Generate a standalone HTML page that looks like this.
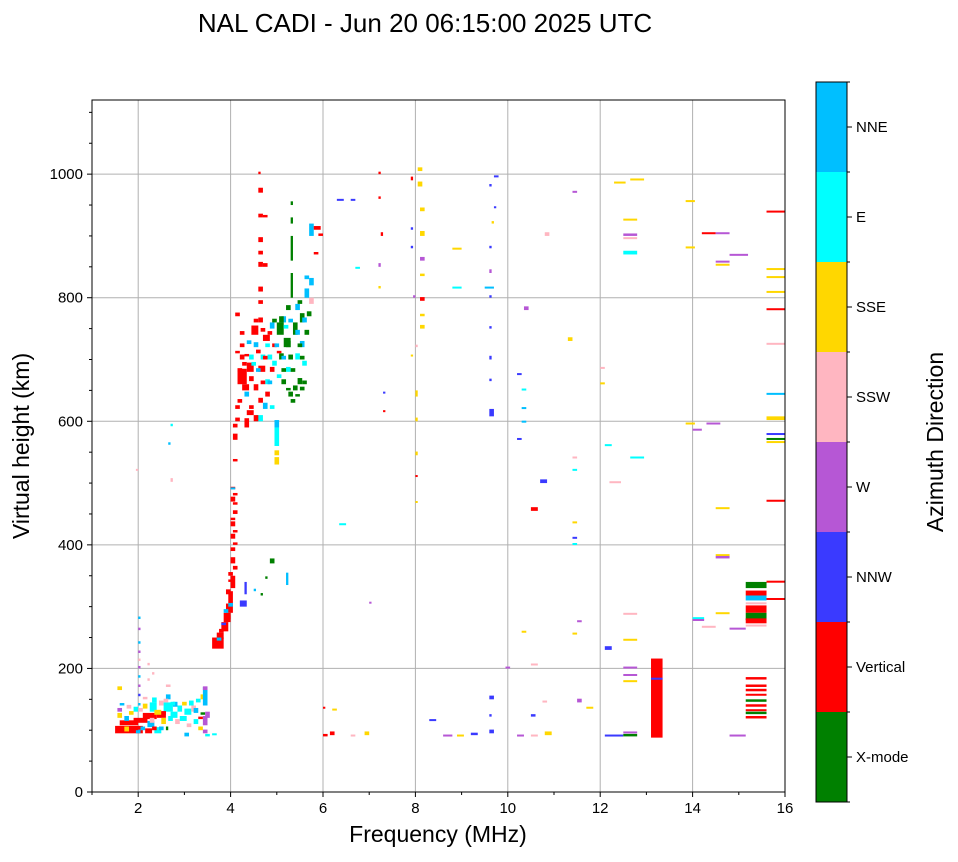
<!DOCTYPE html>
<html><head><meta charset="utf-8"><style>
body{margin:0;background:#fff;width:958px;height:857px;overflow:hidden;font-family:"Liberation Sans","DejaVu Sans",sans-serif}
svg text{font-family:"Liberation Sans","DejaVu Sans",sans-serif}
</style></head><body>
<svg id="chart" width="958" height="857" xmlns="http://www.w3.org/2000/svg">
<text x="425" y="32" font-size="26" text-anchor="middle">NAL CADI - Jun 20 06:15:00 2025 UTC</text>
<g id="grid"></g>
<g id="marks"></g>
<rect x="92" y="100" width="693" height="692" fill="none" stroke="#000" stroke-width="1"/>
<g id="axes"></g>
<text x="438" y="842" font-size="23" text-anchor="middle">Frequency (MHz)</text>
<text transform="translate(29,446) rotate(-90)" font-size="23" text-anchor="middle">Virtual height (km)</text>
<g id="cbar"></g>
<text transform="translate(943,442) rotate(-90)" font-size="23" text-anchor="middle">Azimuth Direction</text>
</svg>
<script>
const directions = ["X-mode","Vertical","NNW","W","SSW","SSE","E","NNE"];
const dirColors = ["#008000","#ff0000","#3a3aff","#b657d5","#ffb6c1","#ffd700","#00ffff","#00bfff"];
const xTicks = [2,4,6,8,10,12,14,16];
const yTicks = [0,200,400,600,800,1000];
// [freq MHz, height km, direction index, width MHz, height span km]
const points = [
// low cluster
[1.5,95,1,0.6,12],[1.6,108,1,0.4,8],[1.55,120,5,0.1,8],[1.55,130,3,0.1,6],[1.55,165,5,0.1,6],
[1.7,115,7,0.1,8],[1.8,125,5,0.1,6],[1.9,112,1,0.3,8],[1.95,95,7,0.1,6],[2.0,130,4,0.1,6],
[2.0,280,7,0.05,4],[2.0,262,3,0.05,4],[2.0,240,7,0.05,4],[2.0,225,3,0.05,4],[2.0,200,3,0.05,4],[2.0,185,7,0.05,4],[2.0,170,3,0.05,4],[2.0,155,2,0.05,4],[2.0,140,7,0.05,4],
[2.1,118,1,0.3,10],[2.2,105,7,0.15,10],[2.25,130,6,0.15,15],[2.3,145,6,0.1,8],[2.35,95,6,0.15,10],
[2.4,120,1,0.2,10],[2.45,140,4,0.1,8],[2.5,110,5,0.1,10],[2.55,130,6,0.2,15],[2.6,150,7,0.1,8],
[2.7,120,6,0.15,10],[2.75,138,7,0.1,8],[2.8,110,4,0.1,8],[2.85,130,6,0.1,10],[2.2,205,4,0.05,4],[2.3,190,4,0.05,4],[2.2,180,4,0.05,4],
[3.0,125,6,0.15,10],[3.1,140,6,0.1,8],[3.2,110,6,0.1,8],[3.3,100,5,0.1,6],[3.35,150,5,0.1,8],[3.4,140,7,0.1,30],[3.4,108,3,0.1,15],[3.4,95,3,0.1,6],[3.4,165,3,0.1,6],[3.15,130,4,0.1,10],[3.0,90,7,0.1,6],
[2.7,592,6,0.05,4],[2.65,562,7,0.05,4],[2.7,502,4,0.05,6],[1.95,520,4,0.05,3],
// extra low-cluster density
[1.6,140,7,0.1,4],[1.7,98,5,0.1,8],[1.75,135,4,0.1,6],[1.85,100,1,0.15,6],[1.9,130,6,0.1,8],[2.05,100,7,0.1,6],[2.1,135,5,0.1,8],[2.15,95,1,0.15,8],[2.25,112,4,0.1,8],[2.3,100,1,0.1,6],
[2.35,125,5,0.15,8],[2.45,100,7,0.1,6],[2.5,125,1,0.1,6],[2.55,145,4,0.1,6],[2.6,100,0,0.05,6],[2.65,115,6,0.1,8],[2.7,140,6,0.1,6],[2.9,115,6,0.15,8],[2.95,140,5,0.1,6],[3.05,105,4,0.1,6],
[3.2,128,7,0.1,8],[3.25,145,6,0.1,6],[3.3,118,1,0.1,4],[3.35,125,0,0.1,4],[3.45,120,3,0.1,10],[3.45,90,6,0.1,4],[3.6,92,6,0.1,3],[2.1,150,4,0.1,4],[2.6,170,4,0.1,4],[2.0,212,4,0.05,4],
// diagonal red
[3.6,232,1,0.25,18],[3.7,248,1,0.15,10],[3.8,260,1,0.15,15],[3.85,275,1,0.15,15],[3.9,290,1,0.15,15],[3.95,305,1,0.1,20],[4.0,330,1,0.1,20],[3.95,350,1,0.1,6],
[4.0,370,1,0.1,10],[4.0,390,1,0.1,6],[4.0,410,1,0.1,8],[4.0,430,1,0.1,8],[4.05,450,1,0.1,6],[4.0,470,1,0.1,8],[4.0,490,1,0.1,4],[4.0,490,7,0.1,3],[3.95,300,7,0.1,6],[3.85,290,7,0.1,6],[3.7,245,7,0.1,5],
[3.9,320,1,0.1,8],[3.95,340,1,0.1,4],[4.05,360,1,0.1,6],[4.05,400,1,0.1,4],[4.05,420,1,0.1,4],[4.0,440,1,0.1,4],[4.05,465,1,0.1,4],[4.05,480,1,0.1,4],[3.75,258,1,0.1,6],[3.9,280,1,0.1,6],[3.8,270,2,0.1,4],
[4.2,300,2,0.15,10],[4.3,320,2,0.05,20],[4.5,325,7,0.05,4],[4.65,318,0,0.05,4],[4.75,345,0,0.05,4],[4.85,370,0,0.1,8],[5.2,335,7,0.05,20],
// main upper cluster
[4.05,570,1,0.1,10],[4.05,535,1,0.1,4],[4.1,600,1,0.1,6],[4.15,630,1,0.1,6],[4.15,660,1,0.2,25],[4.2,700,1,0.1,8],[4.2,720,1,0.1,6],[4.1,770,1,0.1,6],
[4.3,590,1,0.1,15],[4.35,610,1,0.15,8],[4.3,640,7,0.1,8],[4.35,680,1,0.15,15],[4.4,700,6,0.1,8],[4.45,740,1,0.15,15],[4.5,650,1,0.1,10],[4.5,720,7,0.1,8],
[4.55,600,6,0.15,10],[4.6,630,1,0.1,8],[4.6,680,1,0.15,10],[4.6,760,1,0.1,8],[4.65,700,6,0.1,8],[4.7,620,7,0.1,10],[4.75,660,6,0.1,8],[4.7,730,1,0.15,10],
[4.6,790,1,0.1,6],[4.6,810,1,0.1,8],[4.6,850,1,0.1,8],[4.6,870,1,0.1,6],[4.6,890,1,0.1,8],[4.6,930,1,0.1,6],[4.6,970,1,0.1,8],[4.6,1000,1,0.05,4],[4.7,850,1,0.1,6],[4.7,930,1,0.1,4],
[4.8,700,6,0.1,8],[4.85,750,7,0.1,10],[4.85,680,1,0.1,8],[4.9,720,1,0.1,6],[4.95,530,5,0.1,12],[4.95,560,6,0.1,30],[4.95,590,7,0.1,12],[4.95,545,5,0.1,8],
[5.0,740,0,0.15,20],[5.05,700,0,0.1,10],[5.1,760,7,0.1,10],[5.1,660,0,0.1,8],[5.15,720,0,0.15,15],[5.2,680,6,0.1,8],[5.2,780,0,0.1,8],[5.25,640,0,0.1,8],
[5.3,800,0,0.05,40],[5.3,860,0,0.05,40],[5.3,920,0,0.05,10],[5.3,950,0,0.05,6],[5.35,740,0,0.1,20],[5.4,700,6,0.1,10],[5.45,660,0,0.1,10],[5.4,780,7,0.1,10],
[5.5,760,0,0.1,15],[5.5,720,7,0.1,10],[5.55,690,6,0.1,8],[5.6,740,0,0.1,8],[5.6,800,7,0.1,15],[5.7,820,7,0.1,12],[5.7,900,7,0.1,20],[5.7,790,4,0.1,10],[5.8,870,1,0.1,4],[5.8,910,1,0.15,6],[5.9,900,1,0.1,4],
// extra upper-cluster density
[4.2,740,1,0.1,6],[4.25,690,1,0.1,6],[4.25,650,1,0.15,10],[4.3,705,1,0.1,4],[4.35,725,7,0.1,6],[4.4,665,1,0.1,8],[4.4,620,1,0.1,6],[4.45,690,6,0.1,6],[4.5,760,1,0.1,6],[4.5,600,1,0.1,10],
[4.55,710,1,0.1,6],[4.55,680,7,0.1,6],[4.65,745,1,0.1,6],[4.65,660,1,0.1,6],[4.7,700,1,0.1,6],[4.75,640,1,0.1,8],[4.75,720,6,0.1,6],[4.8,660,7,0.1,6],[4.8,740,1,0.1,6],[4.85,620,6,0.1,6],
[4.9,690,6,0.1,8],[4.9,760,0,0.1,6],[4.95,720,7,0.1,6],[5.0,670,6,0.1,6],[5.0,710,1,0.1,4],[5.05,760,0,0.1,10],[5.1,700,7,0.1,6],[5.15,750,6,0.1,6],[5.2,720,0,0.1,10],[5.25,700,0,0.1,8],
[5.25,760,7,0.1,6],[5.3,680,0,0.1,6],[5.35,650,0,0.1,8],[5.4,740,7,0.1,8],[5.45,720,0,0.1,6],[5.45,790,0,0.1,6],[5.5,700,0,0.1,6],[5.55,660,0,0.1,6],[5.55,760,7,0.1,8],[5.65,770,0,0.1,8],
[5.3,630,0,0.1,6],[5.4,640,0,0.1,4],[5.5,650,0,0.1,6],[5.1,680,0,0.1,6],[5.2,650,0,0.1,4],[4.1,620,1,0.1,6],[4.15,680,1,0.1,6],[4.1,710,1,0.1,4],[4.05,590,1,0.1,6],[5.6,830,7,0.1,6],
// scattered higher freq
[6.0,90,1,0.1,4],[6.0,135,1,0.05,3],[6.15,92,1,0.1,6],[6.2,132,5,0.1,3],[6.35,432,6,0.15,3],[6.3,957,2,0.15,3],[6.6,957,2,0.1,3],[6.7,847,6,0.1,3],[6.6,90,4,0.1,3],
[6.9,92,5,0.1,6],[7.0,305,3,0.05,3],[7.2,1000,1,0.05,4],[7.2,960,1,0.05,4],[7.25,900,1,0.05,6],[7.2,850,3,0.05,6],[7.2,815,5,0.05,4],[7.3,645,2,0.05,3],[7.3,615,1,0.05,3],
[7.9,990,1,0.05,6],[7.9,910,2,0.05,4],[7.9,880,2,0.05,4],[7.95,800,3,0.05,4],[7.9,705,5,0.05,3],[8.0,720,4,0.05,4],[8.0,640,5,0.05,10],[8.0,600,5,0.05,6],[8.0,545,5,0.05,6],[8.0,510,1,0.05,3],[8.0,468,5,0.05,3],
[8.05,1005,5,0.1,6],[8.05,980,5,0.1,8],[8.1,940,5,0.1,6],[8.1,900,5,0.1,8],[8.1,860,3,0.1,6],[8.1,835,5,0.1,4],[8.1,795,1,0.1,6],[8.1,750,5,0.1,6],[8.1,770,5,0.1,4],[8.3,115,2,0.15,3],
[8.6,90,3,0.2,3],[8.8,878,5,0.2,3],[8.8,815,6,0.2,3],[8.9,90,5,0.15,3],[9.2,92,2,0.15,4],[9.5,815,7,0.2,3],
[9.6,980,2,0.05,4],[9.65,920,5,0.05,4],[9.6,880,2,0.05,4],[9.6,840,3,0.05,6],[9.6,800,2,0.05,4],[9.6,750,2,0.05,4],[9.6,700,2,0.05,6],[9.6,665,2,0.05,4],[9.6,608,2,0.1,12],[9.6,150,2,0.1,6],[9.6,122,2,0.05,4],[9.6,95,2,0.1,6],[9.7,995,2,0.1,3],[9.7,945,2,0.05,3],[9.95,200,3,0.1,3],
[10.2,675,2,0.1,3],[10.3,650,6,0.1,3],[10.3,620,7,0.1,3],[10.3,598,7,0.1,3],[10.2,570,2,0.1,3],[10.35,780,3,0.1,6],[10.2,90,3,0.15,3],[10.5,90,4,0.15,3],[10.7,500,2,0.15,6],[10.5,455,1,0.15,6],[10.5,122,2,0.1,4],[10.5,205,4,0.15,3],[10.75,145,4,0.1,3],[10.8,92,5,0.15,6],[10.8,900,4,0.1,6],
[11.3,730,5,0.1,6],[11.4,540,4,0.1,3],[11.4,520,6,0.1,3],[11.4,435,5,0.1,3],[11.4,410,2,0.1,3],[11.4,400,6,0.1,3],[11.4,255,5,0.1,3],[11.5,275,3,0.1,3],[11.5,145,3,0.1,6],[11.4,970,3,0.1,3],[10.3,258,5,0.1,3],[11.7,135,5,0.15,3],
[12.0,660,5,0.1,3],[12.0,685,4,0.1,3],[12.1,560,6,0.15,3],[12.1,230,2,0.15,6],[12.1,90,2,0.4,3],[12.2,500,4,0.25,3],[12.3,985,5,0.25,3],[12.5,925,5,0.3,3],[12.5,900,3,0.3,4],[12.5,895,4,0.3,3],[12.5,870,6,0.3,6],[12.5,287,4,0.3,3],[12.5,245,5,0.3,3],[12.5,200,3,0.3,3],[12.5,188,3,0.3,3],[12.5,178,5,0.3,3],[12.5,90,0,0.3,4],[12.5,95,3,0.3,3],
[12.65,540,6,0.3,3],[12.65,990,5,0.3,3],[13.1,88,1,0.25,128],[13.1,182,2,0.25,3],[13.85,880,5,0.2,3],[13.85,955,5,0.2,3],[13.85,595,5,0.2,3],[14.0,585,3,0.2,3],[14.0,280,6,0.25,3],[14.0,278,3,0.25,2],[14.2,267,4,0.3,2],[14.2,903,1,0.3,3],[14.3,595,3,0.3,3],
[14.5,903,3,0.3,3],[14.5,857,3,0.3,3],[14.5,852,5,0.3,3],[14.5,458,5,0.3,3],[14.5,382,5,0.3,3],[14.5,378,3,0.3,4],[14.5,288,5,0.3,3],[14.8,868,3,0.4,3],[14.8,263,3,0.35,3],[14.8,90,3,0.35,3],
[15.15,330,0,0.45,10],[15.15,318,1,0.45,8],[15.15,310,7,0.45,8],[15.15,304,4,0.45,3],[15.15,290,1,0.45,12],[15.15,278,0,0.45,12],[15.15,273,1,0.45,8],[15.15,268,4,0.45,3],
[15.15,182,1,0.45,4],[15.15,170,1,0.45,4],[15.15,163,1,0.45,4],[15.15,156,1,0.45,3],[15.15,146,0,0.45,4],[15.15,138,1,0.45,4],[15.15,132,1,0.45,2],[15.15,126,0,0.45,4],[15.15,119,1,0.45,4],
[15.6,938,1,0.4,3],[15.6,845,5,0.4,3],[15.6,832,5,0.4,3],[15.6,808,5,0.4,3],[15.6,780,1,0.4,3],[15.6,725,4,0.4,2],[15.6,643,7,0.4,3],[15.6,602,5,0.4,6],[15.6,578,2,0.4,3],[15.6,570,0,0.4,3],[15.6,565,5,0.4,3],[15.6,470,1,0.4,3],[15.6,339,1,0.4,3],[15.6,311,1,0.4,3]
];
const NS="http://www.w3.org/2000/svg";
const L=92,R=785,T=100,B=792,xMin=1,xMax=16,yMin=0,yMax=1120;
const xs=f=>L+(f-xMin)/(xMax-xMin)*(R-L);
const ys=h=>B-(h-yMin)/(yMax-yMin)*(B-T);
function mk(tag,attrs,parent){const e=document.createElementNS(NS,tag);for(const k in attrs)e.setAttribute(k,attrs[k]);parent.appendChild(e);return e;}
const grid=document.getElementById('grid'),axes=document.getElementById('axes'),marks=document.getElementById('marks'),cbar=document.getElementById('cbar');
xTicks.forEach(v=>{const x=xs(v);
 const g=mk('line',{x1:x,x2:x,y1:T,y2:B,stroke:'#b0b0b0','stroke-width':1},grid);
 
 
 mk('line',{x1:x,x2:x,y1:B,y2:B+5,stroke:'#000'},axes);
 const t=mk('text',{x:x,y:B+21,'font-size':15,'text-anchor':'middle'},axes);t.textContent=v;
 
 
});
for(let v=1;v<=15;v+=2){const x=xs(v);mk('line',{x1:x,x2:x,y1:B,y2:B+3,stroke:'#000'},axes);}
yTicks.forEach(v=>{const y=ys(v);
 const g=mk('line',{x1:L,x2:R,y1:y,y2:y,stroke:'#b0b0b0','stroke-width':1},grid);
 
 
 mk('line',{x1:L-5,x2:L,y1:y,y2:y,stroke:'#000'},axes);
 const t=mk('text',{x:L-9,y:y+5,'font-size':15,'text-anchor':'end'},axes);t.textContent=v;
 
 
});
for(let v=50;v<=1100;v+=50){if(v%200===0)continue;const y=ys(v);mk('line',{x1:L-3,x2:L,y1:y,y2:y,stroke:'#000'},axes);}
points.forEach(p=>{const [f,h,d,w,hh]=p;
 const x0=xs(f),x1=xs(f+w),y0=ys(h+hh),y1=ys(h);
 const r=mk('rect',{x:x0,y:y0,width:Math.max(1,x1-x0),height:Math.max(2,y1-y0),fill:dirColors[d]},marks);
 
 
});
const cT=82,cB=802,cL=816,cW=31,seg=(cB-cT)/directions.length;
directions.forEach((d,i)=>{const y=cB-(i+1)*seg;
 const r=mk('rect',{x:cL,y:y,width:cW,height:seg,fill:dirColors[i]},cbar);
 
 
 mk('line',{x1:cL+cW,x2:cL+cW+5,y1:y+seg/2,y2:y+seg/2,stroke:'#000'},cbar);
 const t=mk('text',{x:cL+cW+9,y:y+seg/2+5,'font-size':15},cbar);t.textContent=d;
 
 
});
for(let i=0;i<=directions.length;i++){const y=cT+i*seg;mk('line',{x1:cL+cW,x2:cL+cW+3,y1:y,y2:y,stroke:'#000'},cbar);}
mk('rect',{x:cL,y:cT,width:cW,height:cB-cT,fill:'none',stroke:'#000'},cbar);
</script>
</body></html>
